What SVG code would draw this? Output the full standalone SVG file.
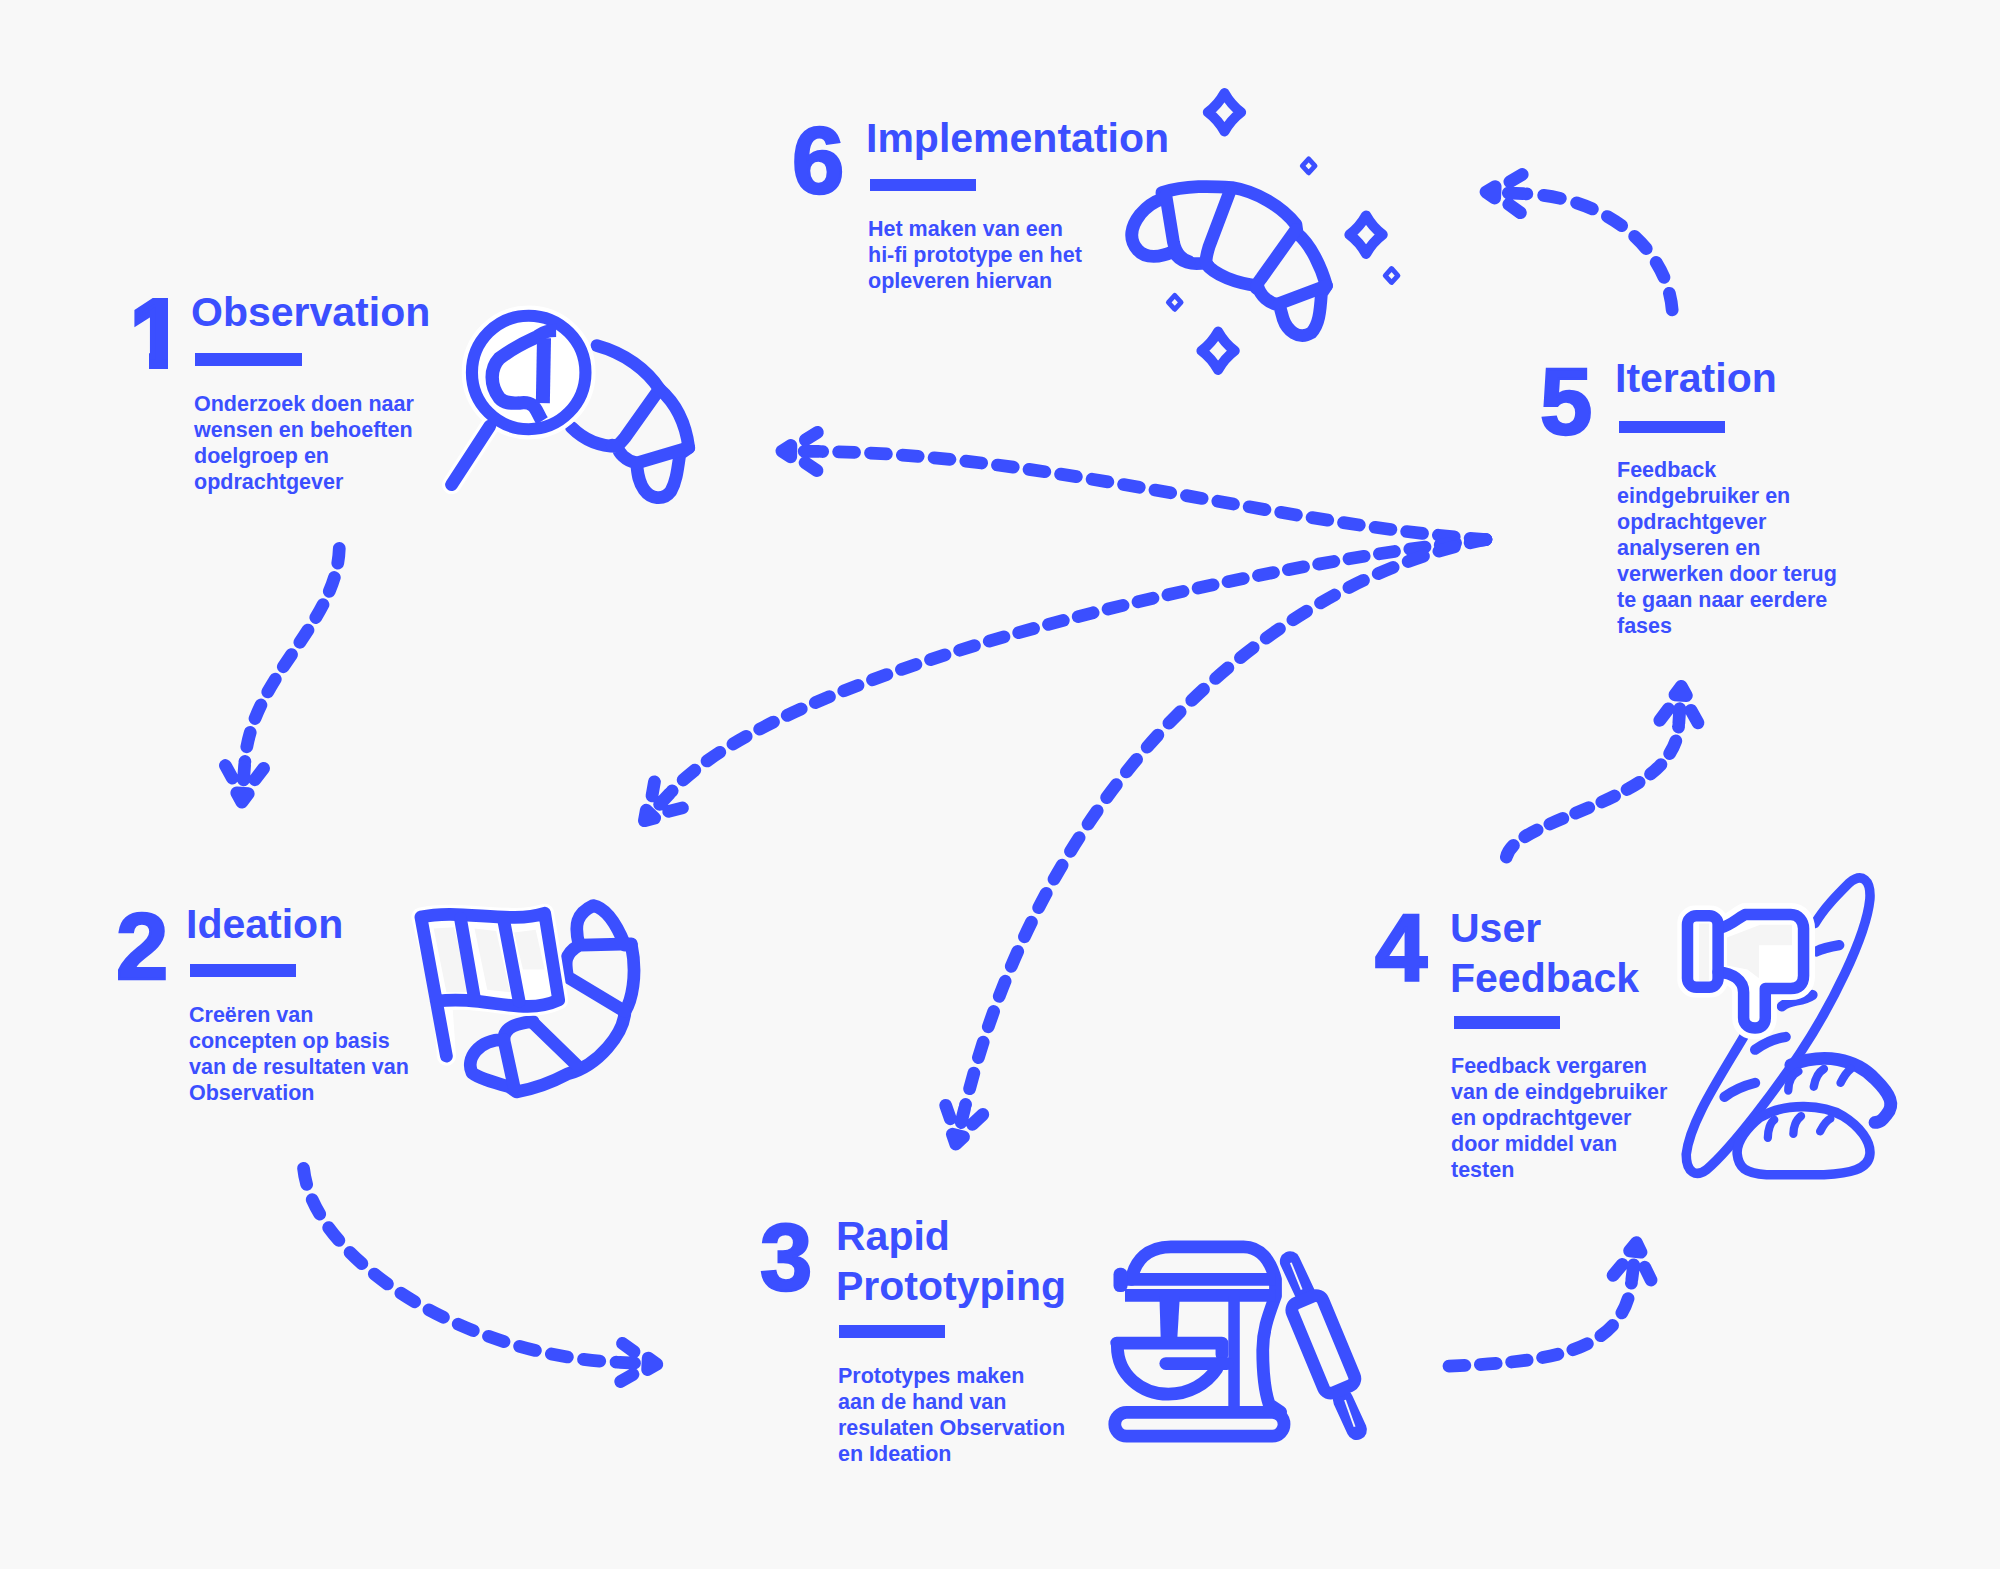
<svg xmlns="http://www.w3.org/2000/svg" width="2000" height="1569" viewBox="0 0 2000 1569">
<style>
text{font-family:"Liberation Sans",Arial,sans-serif;font-weight:700;fill:#3b4fff}
.n{font-size:94px;stroke:#3b4fff;stroke-width:2.5px}
.t{font-size:41px}
.b{font-size:21.5px}
.r{fill:#3b4fff}
.i{fill:none;stroke:#3b4fff;stroke-width:10;stroke-linecap:round;stroke-linejoin:round}
.c{fill:none;stroke:#3b4fff;stroke-width:10;stroke-linecap:round;stroke-dasharray:12.4 12.4}
.h{fill:#fff;stroke:#fff;stroke-linejoin:round;stroke-linecap:round}
.g{fill:#f5f5f5;stroke:none}
.d{fill:none;stroke:#3b4fff;stroke-width:8;stroke-linejoin:round}
.ds{fill:none;stroke:#3b4fff;stroke-width:3.8;stroke-linejoin:round}
.ah{fill:none;stroke:#3b4fff;stroke-width:10;stroke-linecap:round;stroke-linejoin:round}
</style>
<defs>
<marker id="arr" markerUnits="userSpaceOnUse" orient="auto" markerWidth="80" markerHeight="60" viewBox="-10 -30 80 60" refX="0" refY="0" overflow="visible">
<path class="ah" d="M3 0H14.5M4.3 -15L13.7 -8.9M4.3 15L13.7 8.9M25 -4.5L32 0L25 4.5Z"/>
</marker>
<clipPath id="one"><path d="M125 270H168V372H149V345H125Z"/></clipPath>
</defs>
<rect width="2000" height="1569" fill="#f8f8f8"/>

<g id="connectors" transform="scale(1.2755)">
<path class="c" marker-end="url(#arr)" pathLength="198.4" d="M266 430C264 490 197 530 192 597"/>
<path class="c" marker-end="url(#arr)" pathLength="297.6" d="M238 916C245 985 360 1062 483 1068"/>
<path class="c" marker-end="url(#arr)" pathLength="173.6" d="M1136 1071C1210 1068 1272 1062 1279 1006"/>
<path class="c" marker-end="url(#arr)" pathLength="198.4" d="M1181 672C1188 640 1312 630 1316 570"/>
<path class="c" marker-end="url(#arr)" pathLength="148.8" d="M1311 243C1307 195 1260 155 1197 152"/>
<path class="c" marker-end="url(#arr)" pathLength="520.8" d="M1165 423C1000 411 820 356 645 354"/>
<path class="c" marker-end="url(#arr)" pathLength="694.4" d="M1165 423C1000 440 620 520 527 620"/>
<path class="c" marker-end="url(#arr)" pathLength="620" d="M1165 423C1000 455 820 610 757 866"/>
</g>

<g id="node1">
<text class="n" x="131" y="366" clip-path="url(#one)" style="stroke-width:6px">1</text>
<text class="t" x="191" y="326">Observation</text>
<rect class="r" x="195" y="353" width="107" height="13"/>
<text class="b" x="194" y="411">Onderzoek doen naar</text>
<text class="b" x="194" y="437">wensen en behoeften</text>
<text class="b" x="194" y="463">doelgroep en</text>
<text class="b" x="194" y="489">opdrachtgever</text>
<g transform="scale(1.2755)">
<path class="i" d="M468 271C490 277 507 290 517 305C532 318 538 335 540 351L533 356C531 370 530 378 526 385C520 393 510 391 505 384C500 377 500 370 499 363C490 361 485 355 484 350C470 350 458 345 448 335"/>
<path class="i" d="M517 305L490 343C486 348 484 350 480 349M540 351L499 363"/>
<path class="h" stroke-width="15" d="M354 380L384 334"/>
<circle class="h" cx="414.5" cy="292" r="52"/>
<path class="i" d="M354 380L384 334"/>
<circle cx="414.5" cy="292" r="44.5" fill="#fff" stroke="#3b4fff" stroke-width="9.5"/>
<path class="i" style="stroke-width:10.5;stroke-linecap:butt" d="M436 259C424 259 423 264 419 265C408 270 398 276 391.5 281C384 289 384 302 391.5 312C396 317 402 316 407 316C420 314 420 322 425 330"/>
<path class="i" style="stroke-width:11;stroke-linecap:butt" d="M426.5 265L425.6 316"/>
</g>
</g>

<g id="node2">
<text class="n" x="116" y="979">2</text>
<text class="t" x="186" y="938">Ideation</text>
<rect class="r" x="190" y="964" width="106" height="13"/>
<text class="b" x="189" y="1022">Creëren van</text>
<text class="b" x="189" y="1048">concepten op basis</text>
<text class="b" x="189" y="1074">van de resultaten van</text>
<text class="b" x="189" y="1100">Observation</text>
<g transform="scale(1.2755)">
<path class="i" d="M454 741C450 725 452 716 465 710C476 712 484 726 490 741H495C500 765 495 785 490 793C489 810 470 835 445 842C430 850 418 854 405 856L399 852C385 848 375 845 370 841C365 830 375 815 395 815C395 806 405 802 418 801"/>
<path class="i" d="M455 741L495 740M454 741C442 748 443 755 445 766L490 793M418 802L452 835M395 815L403 852"/>
<path class="h" stroke-width="15" d="M330 719C360 712 400 725 427 716L438 784C410 797 380 780 347 785L350 828L347 785Z"/>
<path class="g" d="M340 728L356 727L368 778L350 778ZM372 728L389 730L400 778L382 776ZM403 731L420 729L427 760L410 760Z"/>
<path class="i" d="M350 828L330 719C360 712 400 725 427 716L438 784C410 797 380 780 342 785"/>
<path class="i" d="M361 720L372 783M395 722L407 785"/>
</g>
</g>

<g id="node3">
<text class="n" x="760" y="1290">3</text>
<text class="t" x="836" y="1250">Rapid</text>
<text class="t" x="836" y="1300">Prototyping</text>
<rect class="r" x="839" y="1325" width="106" height="13"/>
<text class="b" x="838" y="1383">Prototypes maken</text>
<text class="b" x="838" y="1409">aan de hand van</text>
<text class="b" x="838" y="1435">resulaten Observation</text>
<text class="b" x="838" y="1461">en Ideation</text>
<g transform="scale(1.2755)">
<path class="i" d="M887 1003C890 988 900 977.5 918 977.5H975C988 977.5 996 988 1000 1003V1016C995 1030 990 1042 990 1058.5C990 1078 992 1092 995 1101L1004 1107"/>
<path class="i" style="stroke-linecap:butt" d="M882 1003H1000M882 1015.6H1000"/>
<rect class="r" x="873" y="994" width="11" height="19" rx="5"/>
<path class="r" d="M909 1016H925L923 1050H910Z"/>
<path class="r" d="M963 1016H972V1106H963Z"/>
<path class="i" d="M875.5 1053H958V1062M876 1055C876 1078 895 1093 916 1093C932 1093 946 1085 954 1073"/>
<path class="i" d="M914 1069H962"/>
<rect class="i" x="874" y="1107.300" width="132.700" height="18.700" rx="9.3"/>
<path d="M1011.400 989L1025 1018" stroke="#3b4fff" stroke-width="16" stroke-linecap="round" fill="none"/>
<path d="M1012 990L1020.500 1011" stroke="#f8f8f8" stroke-width="1.500" fill="none"/>
<path d="M1053 1097.600L1063.700 1121" stroke="#3b4fff" stroke-width="16" stroke-linecap="round" fill="none"/>
<path d="M1054.500 1097.600L1062 1118.600" stroke="#f8f8f8" stroke-width="1.500" fill="none"/>
<rect class="i" x="-13" y="-38" width="26" height="76" rx="6" transform="translate(1037.500 1054) rotate(-22.500)" style="fill:#f8f8f8"/>
</g>
</g>

<g id="node4">
<text class="n" x="1375" y="980">4</text>
<text class="t" x="1450" y="942">User</text>
<text class="t" x="1450" y="992">Feedback</text>
<rect class="r" x="1454" y="1016" width="106" height="13"/>
<text class="b" x="1451" y="1073">Feedback vergaren</text>
<text class="b" x="1451" y="1099">van de eindgebruiker</text>
<text class="b" x="1451" y="1125">en opdrachtgever</text>
<text class="b" x="1451" y="1151">door middel van</text>
<text class="b" x="1451" y="1177">testen</text>
<g transform="scale(1.2755)">
<path class="i" style="stroke-width:7.5" d="M1367 813C1345 850 1325 880 1322 905C1322 920 1330 923 1338 917C1360 898 1395 850 1411 826C1435 790 1463 735 1466 705C1467 690 1460 684 1450 692C1440 702 1430 712 1423 724"/>
<path class="i" style="stroke-width:8" d="M1424 746C1430 743 1436 742 1442 741M1397 789C1404 783 1412 786 1421 780M1376 823C1383 818 1392 814 1400 813M1352 860C1360 854 1368 851 1376 849"/>
<path class="i" d="M1404 835C1430 825 1455 830 1470 846C1482 858 1486 866 1479 874C1476 878 1474 880 1470 880"/>
<path class="i" style="stroke-width:7.5" d="M1380 876C1400 864 1430 866 1445 875C1458 883 1467 895 1466 905C1465 917 1450 920 1430 921H1385C1368 920 1363 915 1362 905C1361 895 1370 884 1380 876Z"/>
<path class="i" style="stroke-width:6.500" d="M1386 892C1386 886 1388 880 1391 878M1406 889C1406 884 1408 878 1412 875M1427 887C1429 883 1431 879 1435 877M1402 855C1402 848 1405 842 1410 840M1422 852C1423 846 1425 841 1430 838M1443 849C1445 845 1447 841 1451 838"/>
<path class="h" stroke-width="18" d="M1348 728C1358 725 1362 720 1368 717H1404C1410 717 1414 722 1414 728V765C1414 772 1410 775 1404 775H1384V798C1384 804 1380 806 1376 806C1372 806 1367 804 1367 798V778C1367 768 1358 763 1347 762Z"/>
<rect class="h" stroke-width="16" x="1323" y="718" width="24" height="56" rx="6"/>
<path class="g" d="M1354 735L1380 725H1405V741H1379V767L1370 760L1354 757ZM1330 724H1340V769H1330Z"/>
<rect x="1328" y="722" width="4" height="48" fill="#fff"/>
<path class="i" style="stroke-width:9" d="M1348 728C1358 725 1362 720 1368 717H1404C1410 717 1414 722 1414 728V765C1414 772 1410 775 1404 775H1384V798C1384 804 1380 806 1376 806C1372 806 1367 804 1367 798V778C1367 768 1358 763 1347 762"/>
<rect class="i" style="stroke-width:9" x="1323" y="718" width="24" height="56" rx="7"/>
</g>
</g>

<g id="node5">
<text class="n" x="1540" y="434">5</text>
<text class="t" x="1615" y="392">Iteration</text>
<rect class="r" x="1619" y="421" width="106" height="12"/>
<text class="b" x="1617" y="477">Feedback</text>
<text class="b" x="1617" y="503">eindgebruiker en</text>
<text class="b" x="1617" y="529">opdrachtgever</text>
<text class="b" x="1617" y="555">analyseren en</text>
<text class="b" x="1617" y="581">verwerken door terug</text>
<text class="b" x="1617" y="607">te gaan naar eerdere</text>
<text class="b" x="1617" y="633">fases</text>
</g>

<g id="node6">
<text class="n" x="792" y="193">6</text>
<text class="t" x="866" y="152">Implementation</text>
<rect class="r" x="870" y="179" width="106" height="12"/>
<text class="b" x="868" y="236">Het maken van een</text>
<text class="b" x="868" y="262">hi-fi prototype en het</text>
<text class="b" x="868" y="288">opleveren hiervan</text>
<g transform="scale(1.2755)">
<path class="i" d="M911 151C930 145 950 146 966 147C985 150 1005 162 1016 176L1017 183C1028 192 1036 210 1040 224L1036 230C1035 245 1034 255 1028 261C1018 267 1009 259 1006 250L1003 239C995 238 988 232 986 224C970 222 952 216 945 206C935 208 925 206 920 197C910 202 898 203 892 196C884 187 887 177 894 168C899 162 905 158 911 156Z"/>
<path class="i" d="M965 148L948 193C945 203 945 206 947 208M914 153L920 190C922 200 928 204 932 205M1016 180L989 218C985 223 985 225 985 226M1040 224L1003 238"/>
<path class="d" d="M960 73Q965 82 973 88Q965 94 960 103Q955 94 947 88Q955 82 960 73Z"/>
<path class="d" d="M1071 169Q1076 178 1084 184Q1076 190 1071 199Q1066 190 1058 184Q1066 178 1071 169Z"/>
<path class="d" d="M955 260Q960 269 968 275Q960 281 955 290Q950 281 942 275Q950 269 955 260Z"/>
<path class="ds" d="M1026 124.500L1031 130L1026 135.500L1021 130Z"/>
<path class="ds" d="M1091 210.500L1096 216L1091 221.500L1086 216Z"/>
<path class="ds" d="M921 231.500L926 237L921 242.500L916 237Z"/>
</g>
</g>
</svg>
